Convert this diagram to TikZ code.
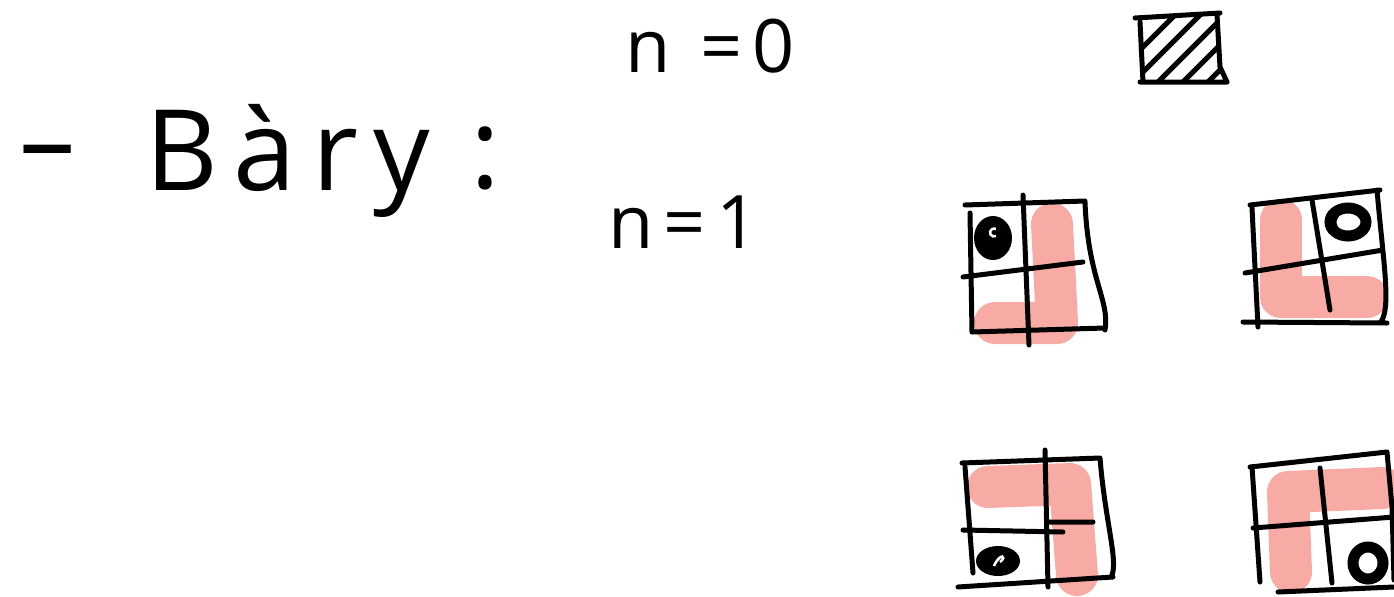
\documentclass[tikz,border=0pt]{standalone}
\usepackage{fontspec}
\setmainfont{Open Sans}
\definecolor{pinkfill}{HTML}{F7ABA4}
\begin{document}
\begin{tikzpicture}[x=0.02cm,y=-0.02cm,
  ink/.style={line width=1mm, line cap=round, line join=round},
  pinkstroke/.style={draw=pinkfill, line width=0.84cm, line cap=round, line join=round},
  midtxt/.style={font=\fontsize{42}{48}\selectfont\addfontfeatures{LetterSpace=14}, inner sep=0},
  bigtxt/.style={font=\fontsize{64}{74}\selectfont\addfontfeatures{LetterSpace=14}, inner sep=0},
  ring/.style={draw=black, line width=2.2mm}]
\useasboundingbox (0,0) rectangle (1394,596);

% texts
\node[bigtxt] (dash) at (48,162) {–};
\node[bigtxt, anchor=base west] (word) at (145,190) {Bàry};
\node[bigtxt, anchor=base] (colon) at (485,188) {:};
\node[midtxt, anchor=base west] (n0) at (625,72) {n =0};
\node[midtxt, anchor=base west] (n1) at (608,248) {n=1};

% n = 0 : hatched square
\begin{scope}
  \clip (1137,18) -- (1219,13) -- (1222,67) -- (1227,82) -- (1141,82) -- cycle;
  \foreach \d in {-40,-15,10,35,60}
    \draw[ink] (1140+\d,90) -- (1230+\d,0);
\end{scope}
\draw[ink] (1135,18) -- (1220,13) (1140,22) -- (1143,82) (1140,82) -- (1227,82)
           (1217,15) -- (1220,67) -- (1227,82);

% grid 1 (top left)
\draw[pinkstroke] (1052,224) -- (1057,323) -- (995,323);
\draw[ink] (965,205) -- (1085,201) (970,213) -- (972,332) (972,332) -- (1105,328)
           (1085,202) .. controls (1088,280) and (1110,300) .. (1105,330)
           (1023,195) -- (1029,345) (963,277) -- (1083,262);
\fill[black] (993,238) ellipse [x radius=19, y radius=22];
\draw[white, line width=0.5mm] (996,236) arc[start angle=60, end angle=300, radius=4];

% grid 2 (top right)
\draw[pinkstroke] (1281,220) -- (1281,297) -- (1367,297);
\draw[ink] (1250,205) -- (1380,190) (1252,208) -- (1258,327) (1243,322) -- (1387,323)
           (1377,190) .. controls (1383,260) and (1392,310) .. (1380,323)
           (1312,200) -- (1330,310) (1245,273) -- (1383,250);
\draw[ring] (1348,222) ellipse [x radius=18, y radius=14];
\draw[ink] (1340,210) .. controls (1332,222) .. (1340,236);

% grid 3 (bottom left)
\draw[pinkstroke] (988,487) -- (1070,484) -- (1077,575);
\draw[ink] (962,463) -- (1100,458) (965,467) -- (973,573) (958,587) -- (1113,577)
           (1100,458) .. controls (1105,520) and (1118,560) .. (1112,575)
           (1045,450) -- (1048,587) (963,530) -- (1063,532) (1050,522) -- (1093,522);
\fill[black] (998,561) ellipse [x radius=22, y radius=15];
\draw[white, line width=0.5mm] (994,566) .. controls (1000,552) and (1008,556) .. (1000,562);

% grid 4 (bottom right)
\draw[pinkstroke] (1288,492) -- (1383,488) (1288,492) -- (1291,572);
\draw[ink] (1250,467) -- (1387,452) (1252,467) -- (1260,582) (1387,452) -- (1392,507) -- (1394,580)
           (1278,592) -- (1394,587) (1320,468) -- (1332,583) (1253,528) -- (1394,517);
\draw[ring] (1368,563) ellipse [x radius=15, y radius=16];
\end{tikzpicture}
\end{document}
